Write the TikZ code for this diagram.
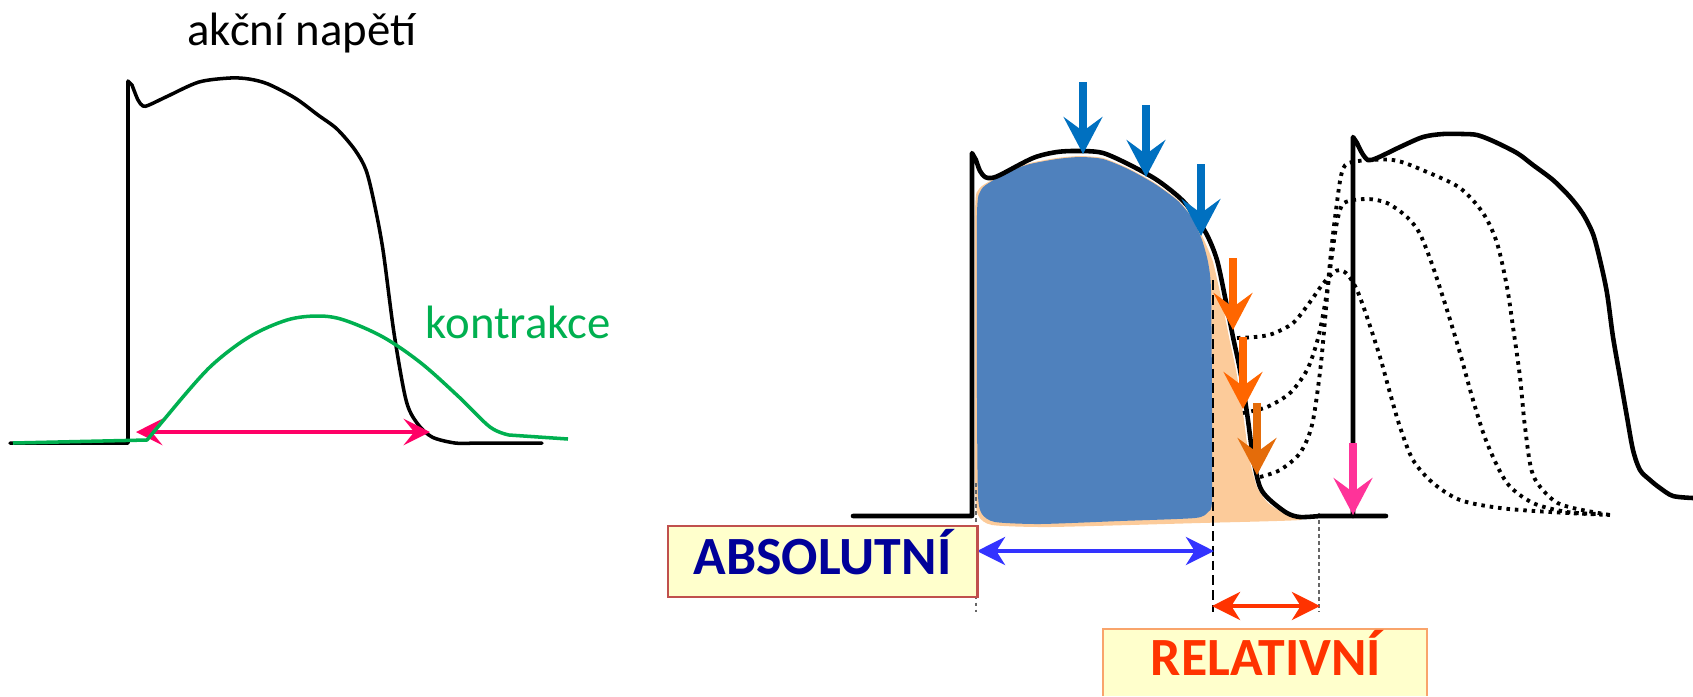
\documentclass[tikz,border=0pt]{standalone}
\usepackage{fontspec}
\setmainfont{Carlito}
\usetikzlibrary{arrows.meta}
\definecolor{ink}{HTML}{000000}
\definecolor{leaf}{HTML}{00B050}
\definecolor{rose}{HTML}{FF0066}
\definecolor{sky}{HTML}{0070C0}
\definecolor{tang}{HTML}{FF6600}
\definecolor{rust}{HTML}{E46C0A}
\definecolor{fuchsia}{HTML}{FF3399}
\definecolor{slate}{HTML}{4F81BD}
\definecolor{peach}{HTML}{FCCB9A}
\definecolor{azure}{HTML}{3333FF}
\definecolor{navy}{HTML}{000099}
\definecolor{flame}{HTML}{FF3300}
\definecolor{lemon}{HTML}{FFFFCC}
\definecolor{brick}{HTML}{C0504D}
\definecolor{apricot}{HTML}{F9A46B}

\begin{document}
\begin{tikzpicture}[
  x=0.01cm, y=-0.01cm,
  ap/.style={ink, line width=#1, line join=round, line cap=round},
  ap/.default=1.3pt,
  trace/.style={ink, line width=1.1pt, dash pattern=on 1pt off 1.4pt},
  guide/.style={ink!60, line width=0.3pt, dash pattern=on 1pt off 1pt},
  down/.style={#1, line width=2.3pt,
               -{Stealth[length=10.5pt, width=11pt, inset=4pt]}},
  span/.style={#1, line width=1pt,
               {Stealth[length=8pt, width=8pt, inset=2.5pt]}-{Stealth[length=8pt, width=8pt, inset=2.5pt]}},
  lbl/.style={font=\fontsize{13.3}{16}\selectfont, inner sep=0pt},
  tag/.style={font=\fontsize{15.3}{18}\selectfont\bfseries},
]
\useasboundingbox (0,0) rectangle (1693,696);

% ─── left: action potential vs. contraction ─────────────────────────────────
\node[lbl, anchor=base] (title) at (302,45) {akční napětí};
\draw[ap=1pt] (10,443) -- (128,443) -- (128,81)
  -- plot[smooth, tension=0.5] coordinates {(132,85) (138,100) (143,106)
     (149,105) (168,96) (199,82) (230,78) (249,79) (268,84) (295,98)
     (318,115) (337,129) (355,150) (366,170) (374,202) (383,250) (394,333)
     (406,400) (417,423) (432,437) (455,443) (475,443)} -- (542,443);

\coordinate (twL) at (136,432);
\coordinate (twR) at (430,432);
\draw[rose, line width=1.2pt,
      {Stealth[length=7.5pt, width=7.5pt, inset=3pt]}-{Stealth[length=7.5pt, width=7.5pt, inset=3pt]}]
      (twL) -- (twR);

\draw[leaf, line width=1pt, line join=round] (13,443) -- (147,440)
  -- plot[smooth, tension=0.55] coordinates {(172,410) (210,367) (249,337)
     (287,320) (318,316) (344,320) (383,337) (421,363) (459,397) (490,427)
     (509,435)} -- (568,439);
\node[lbl, leaf, anchor=base west] (kontr) at (425,338) {kontrakce};

% ─── right: refractory periods ──────────────────────────────────────────────
\fill[peach] plot[smooth cycle, tension=0.35] coordinates {(975,215) (979,189)
     (992,180) (1010,170) (1030,163) (1057,158) (1080,156) (1103,158)
     (1128,168) (1155,183) (1178,200) (1193,218) (1204,240) (1213,262)
     (1221,297) (1229,337) (1236,370) (1243,413) (1249,457) (1257,487)
     (1268,503) (1285,514) (1300,520) (1200,523) (1050,527) (992,525)
     (978,515) (975,480)};
\fill[slate] plot[smooth cycle, tension=0.4] coordinates {(977,215) (981,190)
     (992,181) (1010,171) (1030,164) (1057,159) (1080,157) (1103,159)
     (1128,169) (1155,184) (1178,201) (1192,218) (1202,240) (1208,262)
     (1211,290) (1212,400) (1212,500) (1208,512) (1195,518) (1120,521)
     (1040,524) (995,522) (982,514) (978,495) (977,400)};

% period boundaries
\draw[ink, line width=0.55pt, dash pattern=on 2.8pt off 1.4pt] (1213,280) -- (1213,612);
\draw[guide] (976,483) -- (976,612);
\draw[guide] (1319,513) -- (1319,612);

% first action potential
\draw[ap] (853,516) -- (972,516) -- (972,153)
  -- plot[smooth, tension=0.5] coordinates {(976,160) (980,171) (985,177)
     (991,178) (1000,175) (1033,158) (1057,152) (1080,151) (1103,153)
     (1130,165) (1157,180) (1180,198) (1193,213) (1207,235) (1217,260)
     (1225,297) (1233,337) (1240,370) (1247,413) (1253,457) (1260,487)
     (1270,500) (1287,513) (1300,517) (1320,516)} -- (1386,516);

% second action potential
\draw[ap] (1353,516) -- (1353,137)
  -- plot[smooth, tension=0.5] coordinates {(1357,143) (1362,153) (1368,160)
     (1377,158) (1400,147) (1423,137) (1443,134) (1463,134) (1477,135)
     (1493,141) (1517,153) (1533,165) (1553,180) (1570,197) (1583,214)
     (1593,234) (1600,260) (1607,293) (1613,337) (1620,377) (1627,417)
     (1633,450) (1640,470) (1650,480) (1660,488) (1673,496) (1693,498)};

% premature responses
\draw[trace] plot[smooth, tension=0.5] coordinates {(1237,338) (1255,337)
     (1272,334) (1293,323) (1310,302) (1322,285) (1333,273) (1340,270)
     (1348,275) (1357,290) (1367,317) (1380,357) (1390,393) (1400,427)
     (1413,460) (1433,483) (1460,500) (1500,508) (1550,512) (1610,515)};
\draw[trace] plot[smooth, tension=0.5] coordinates {(1243,413) (1267,407)
     (1290,393) (1307,370) (1317,342) (1323,315) (1328,285) (1332,255)
     (1337,222) (1344,203) (1367,199) (1387,203) (1407,217) (1420,234)
     (1433,267) (1447,310) (1460,353) (1473,400) (1487,443) (1507,483)
     (1533,503) (1567,512) (1600,514)};
\draw[trace] plot[smooth, tension=0.5] coordinates {(1260,477) (1280,470)
     (1300,453) (1312,425) (1320,372) (1325,320) (1330,262) (1336,210)
     (1342,172) (1352,162) (1393,160) (1427,172) (1460,188) (1483,213)
     (1497,243) (1507,287) (1513,327) (1520,377) (1525,427) (1533,475)
     (1553,500) (1573,508) (1610,515)};

% stimuli
\foreach \x/\y/\c in {1083/82/sky, 1146/105/sky, 1201/164/sky,
                      1233/258/tang, 1243/337/tang, 1257/403/rust,
                      1353/443/fuchsia}
  \draw[down=\c] (\x,\y) -- ++(0,72);

% ─── period labels ──────────────────────────────────────────────────────────
\coordinate (absL) at (977,551);
\coordinate (absR) at (1214,551);
\coordinate (relL) at (1212,606);
\coordinate (relR) at (1320,606);
\draw[span=azure] (absL) -- (absR);
\draw[span=flame] (relL) -- (relR);

\node[tag, navy, draw=brick, line width=0.8pt, fill=lemon,
      minimum width=3.09cm, minimum height=0.71cm, inner sep=0pt,
      text height=0.42cm, text depth=0.16cm] (abs) at (822.5,561.5) {ABSOLUTNÍ};

\fill[lemon] (1103,629) rectangle (1427,696);
\draw[apricot, line width=0.8pt] (1103,696) -- (1103,629) -- (1427,629) -- (1427,696);
\node[tag, flame, anchor=base] (rel) at (1266,675) {RELATIVNÍ};

\end{tikzpicture}
\end{document}
